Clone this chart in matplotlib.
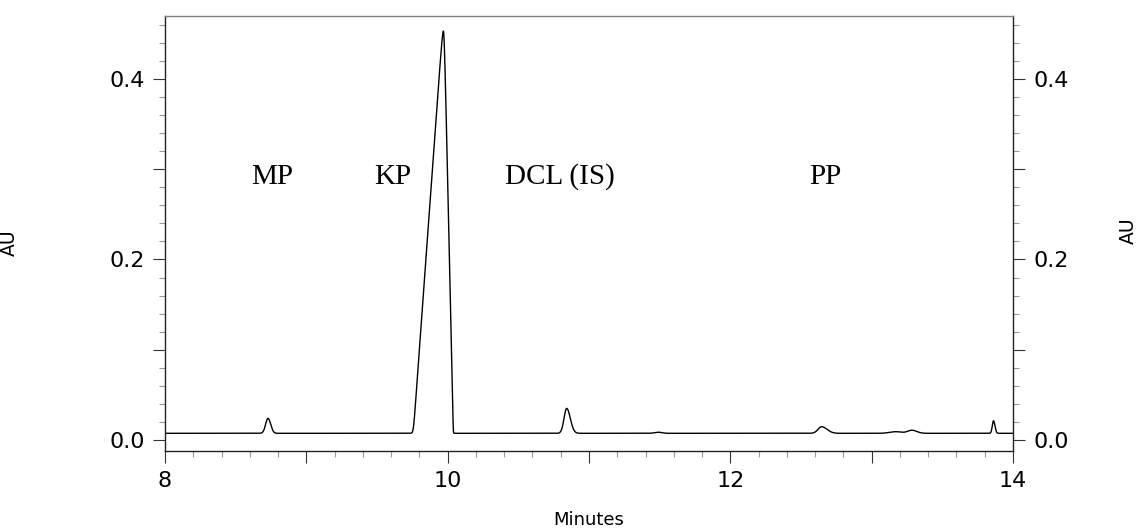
import numpy as np
import matplotlib
matplotlib.use("Agg")
import matplotlib.pyplot as plt
from matplotlib.ticker import MultipleLocator, FuncFormatter

# minor peaks (minutes, AU above baseline, half widths left/right)
baseline = 0.0074
peak_rt = [8.729, 10.842, 11.490, 12.646, 13.170, 13.285, 13.862]
peak_height = [0.0166, 0.0276, 0.0012, 0.0073, 0.0018, 0.0034, 0.0139]
peak_hw_left = [0.020, 0.022, 0.030, 0.030, 0.050, 0.035, 0.010]
peak_hw_right = [0.022, 0.030, 0.030, 0.045, 0.050, 0.040, 0.012]

# main KP peak: near-triangular, fronting
kp_rt = 9.970
kp_height = 0.4456
kp_base_left = 0.205
kp_base_right = 0.062

labels = ["MP", "KP", "DCL (IS)", "PP"]
label_x = [8.757, 9.613, 10.795, 12.67]
label_y = 0.284

# build the trace
t = np.linspace(8, 14, 6001)
signal = np.full_like(t, baseline)
for rt, h, wl, wr in zip(peak_rt, peak_height, peak_hw_left, peak_hw_right):
    d = t - rt
    w = np.where(d < 0, wl, wr)
    signal += h * np.exp(-np.log(2) * (d / w) ** 2)

s, e = 0.02, 0.008
d = t - kp_rt
u = (np.sqrt(d ** 2 + e ** 2) - e) / np.where(d < 0, kp_base_left, kp_base_right)
signal += kp_height * np.logaddexp(0, (1 - u) / s) / np.logaddexp(0, 1 / s)

fig = plt.figure(figsize=(11.39, 5.30), dpi=100)
ax = fig.add_axes([165 / 1139, 79 / 530, 848 / 1139, 435 / 530])

ax.plot(t, signal, color="black", lw=1.0)

ax.set_xlim(8, 14)
ax.set_ylim(-0.0122, 0.4697)

# ticks: labelled every other major tick
ax.xaxis.set_major_locator(MultipleLocator(1))
ax.xaxis.set_minor_locator(MultipleLocator(0.2))
ax.xaxis.set_major_formatter(FuncFormatter(
    lambda v, p: f"{v:.0f}" if round(v) % 2 == 0 else ""))
ax.yaxis.set_major_locator(MultipleLocator(0.1))
ax.yaxis.set_minor_locator(MultipleLocator(0.02))
ax.yaxis.set_major_formatter(FuncFormatter(
    lambda v, p: f"{abs(v) if abs(v) < 1e-9 else v:.1f}" if round(v * 10) % 2 == 0 else ""))

ax.tick_params(axis="both", which="major", direction="out", length=8.5, width=0.8,
               color="#333333", labelsize=16)
ax.tick_params(axis="both", which="minor", direction="out", length=4.3, width=0.8,
               color="#999999")
ax.tick_params(axis="y", which="both", right=True, labelright=True)
ax.tick_params(axis="y", which="major", pad=6)
ax.tick_params(axis="x", which="major", pad=6)

for side in ["left", "bottom", "right"]:
    ax.spines[side].set_color("#222222")
    ax.spines[side].set_linewidth(1.0)
ax.spines["top"].set_color("#808080")
ax.spines["top"].set_linewidth(1.0)

# peak names
for name, x in zip(labels, label_x):
    ax.text(x, label_y, name, ha="center", va="baseline",
            fontsize=21, family="Liberation Serif")

fig.text(589 / 1139, 10 / 530, "Minutes", ha="center", va="center", fontsize=13)
fig.text(1128 / 1139, 299 / 530, "AU", ha="center", va="center",
         rotation=90, fontsize=13.5)
fig.text(19 / 1139, 287 / 530, "AU", ha="right", va="center",
         rotation=90, fontsize=13.5)

fig.savefig("out.png", dpi=100)
